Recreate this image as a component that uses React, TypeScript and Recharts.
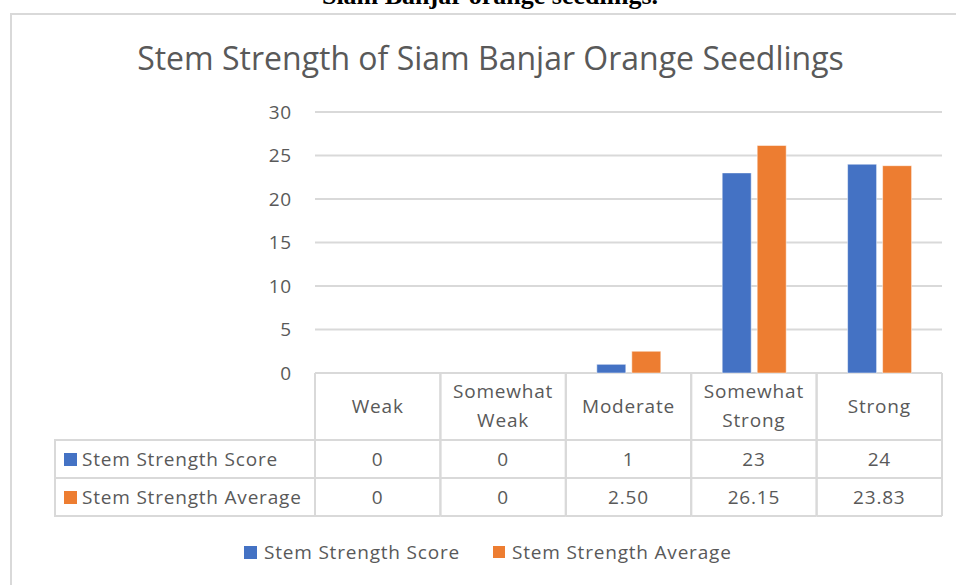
import React from "react";
import { BarChart, Bar, XAxis, YAxis, CartesianGrid } from "recharts";

const categories = ["Weak", "Somewhat Weak", "Moderate", "Somewhat Strong", "Strong"];
const scoreValues = [0, 0, 1, 23, 24];
const averageValues = [0, 0, 2.5, 26.15, 23.83];
const yTicks = [0, 5, 10, 15, 20, 25, 30];

const SCORE_NAME = "Stem Strength Score";
const AVERAGE_NAME = "Stem Strength Average";
const BLUE = "#4472C4";
const ORANGE = "#ED7D31";
const TEXT = "#595959";
const LINE = "#d9d9d9";
const FONT = "'Open Sans', sans-serif";
const FS = 19;
const LS = 0.8;

const chartData = categories.map((name, i) => ({
  name,
  score: scoreValues[i],
  average: averageValues[i],
}));

// layout of the plot + data table below it
const PLOT_LEFT = 315;
const PLOT_RIGHT = 942;
const PLOT_TOP = 112;
const PLOT_BOTTOM = 373;
const HEADER_BOTTOM = 440;
const ROW1_BOTTOM = 478;
const ROW2_BOTTOM = 516;
const CELL_W = (PLOT_RIGHT - PLOT_LEFT) / categories.length;

const fmtAverage = (v: number) => (v === 0 ? "0" : v.toFixed(2));

const textProps = {
  fill: TEXT,
  fontSize: FS,
  fontFamily: FONT,
  letterSpacing: LS,
};

const YTick = ({ y, payload }: any) => (
  <text x={292} y={y} dy="0.36em" textAnchor="end" {...textProps}>
    {payload.value}
  </text>
);

const TableTick = ({ x, payload, index }: any) => {
  const words = String(payload.value).split(" ");
  const left = x - CELL_W / 2;
  const right = x + CELL_W / 2;
  const headerMid = (PLOT_BOTTOM + HEADER_BOTTOM) / 2;
  return (
    <g>
      <line x1={left} x2={left} y1={PLOT_BOTTOM} y2={ROW2_BOTTOM} stroke={LINE} strokeWidth={2} />
      <line x1={right} x2={right} y1={PLOT_BOTTOM} y2={ROW2_BOTTOM} stroke={LINE} strokeWidth={2} />
      <line x1={left} x2={right} y1={HEADER_BOTTOM} y2={HEADER_BOTTOM} stroke={LINE} strokeWidth={2} />
      <line x1={left} x2={right} y1={ROW1_BOTTOM} y2={ROW1_BOTTOM} stroke={LINE} strokeWidth={2} />
      <line x1={left} x2={right} y1={ROW2_BOTTOM} y2={ROW2_BOTTOM} stroke={LINE} strokeWidth={2} />
      {words.length === 1 ? (
        <text x={x} y={headerMid} dy="0.36em" textAnchor="middle" {...textProps}>
          {words[0]}
        </text>
      ) : (
        words.map((w, k) => (
          <text key={k} x={x} y={headerMid - 15 + k * 29} dy="0.36em" textAnchor="middle" {...textProps}>
            {w}
          </text>
        ))
      )}
      <text x={x} y={(HEADER_BOTTOM + ROW1_BOTTOM) / 2} dy="0.36em" textAnchor="middle" {...textProps}>
        {scoreValues[index]}
      </text>
      <text x={x} y={(ROW1_BOTTOM + ROW2_BOTTOM) / 2} dy="0.36em" textAnchor="middle" {...textProps}>
        {fmtAverage(averageValues[index])}
      </text>
    </g>
  );
};

const htmlText: React.CSSProperties = {
  fontFamily: FONT,
  fontSize: FS,
  letterSpacing: LS,
  color: TEXT,
};

const rowHeaderStyle: React.CSSProperties = {
  ...htmlText,
  position: "absolute",
  left: 54,
  width: PLOT_LEFT - 54,
  display: "flex",
  alignItems: "center",
  boxSizing: "border-box",
  paddingLeft: 10,
  whiteSpace: "nowrap",
};

export default function App() {
  return (
    <div style={{ position: "absolute", left: 0, top: 0, width: 956, height: 585, overflow: "hidden", background: "#fff" }}>
      <div
        style={{
          position: "absolute",
          left: 0,
          width: 980,
          top: -17,
          textAlign: "center",
          fontFamily: "'Liberation Serif', serif",
          fontWeight: 700,
          fontSize: 26,
          lineHeight: "26px",
          color: "#000",
        }}
      >
        Siam Banjar orange seedlings.
      </div>
      <div style={{ position: "absolute", left: 10, top: 13, width: 980, height: 620, border: `2px solid ${LINE}` }} />
      <div
        style={{
          position: "absolute",
          left: 0,
          width: 981,
          top: 38,
          textAlign: "center",
          fontFamily: FONT,
          fontSize: 32,
          lineHeight: "40px",
          color: TEXT,
        }}
      >
        Stem Strength of Siam Banjar Orange Seedlings
      </div>

      <div style={{ position: "absolute", left: 0, top: 0 }}>
        <BarChart
          width={956}
          height={585}
          data={chartData}
          margin={{ top: PLOT_TOP, right: 956 - PLOT_RIGHT, left: 0, bottom: 585 - ROW2_BOTTOM }}
          barSize={29}
          barGap={6}
        >
          <CartesianGrid vertical={false} stroke={LINE} strokeWidth={2} />
          <YAxis
            domain={[0, 30]}
            ticks={yTicks}
            width={PLOT_LEFT}
            axisLine={false}
            tickLine={false}
            tick={<YTick />}
            interval={0}
          />
          <XAxis
            dataKey="name"
            height={ROW2_BOTTOM - PLOT_BOTTOM}
            axisLine={false}
            tickLine={false}
            tickSize={0}
            tickMargin={0}
            interval={0}
            tick={<TableTick />}
          />
          <Bar dataKey="score" name={SCORE_NAME} fill={BLUE} stroke="#fff" strokeWidth={0.5} isAnimationActive={false} />
          <Bar dataKey="average" name={AVERAGE_NAME} fill={ORANGE} stroke="#fff" strokeWidth={0.5} isAnimationActive={false} />
        </BarChart>
      </div>

      <div
        style={{
          position: "absolute",
          left: 54,
          top: HEADER_BOTTOM - 1,
          width: PLOT_LEFT - 54,
          height: ROW2_BOTTOM - HEADER_BOTTOM + 2,
          boxSizing: "border-box",
          border: `2px solid ${LINE}`,
          borderRight: "none",
        }}
      />
      <div style={{ position: "absolute", left: 54, top: ROW1_BOTTOM - 1, width: PLOT_LEFT - 54, height: 2, background: LINE }} />
      <div style={{ ...rowHeaderStyle, top: HEADER_BOTTOM, height: ROW1_BOTTOM - HEADER_BOTTOM }}>
        <span style={{ width: 13, height: 13, background: BLUE, marginRight: 5, flex: "none" }} />
        {SCORE_NAME}
      </div>
      <div style={{ ...rowHeaderStyle, top: ROW1_BOTTOM, height: ROW2_BOTTOM - ROW1_BOTTOM }}>
        <span style={{ width: 13, height: 13, background: ORANGE, marginRight: 5, flex: "none" }} />
        {AVERAGE_NAME}
      </div>

      <div style={{ ...htmlText, position: "absolute", left: 244, top: 538, height: 28, display: "flex", alignItems: "center", whiteSpace: "nowrap" }}>
        <span style={{ width: 13, height: 13, background: BLUE, marginRight: 7, flex: "none" }} />
        <span style={{ width: 229 }}>{SCORE_NAME}</span>
        <span style={{ width: 12, height: 12, background: ORANGE, marginRight: 7, flex: "none" }} />
        <span>{AVERAGE_NAME}</span>
      </div>
    </div>
  );
}
